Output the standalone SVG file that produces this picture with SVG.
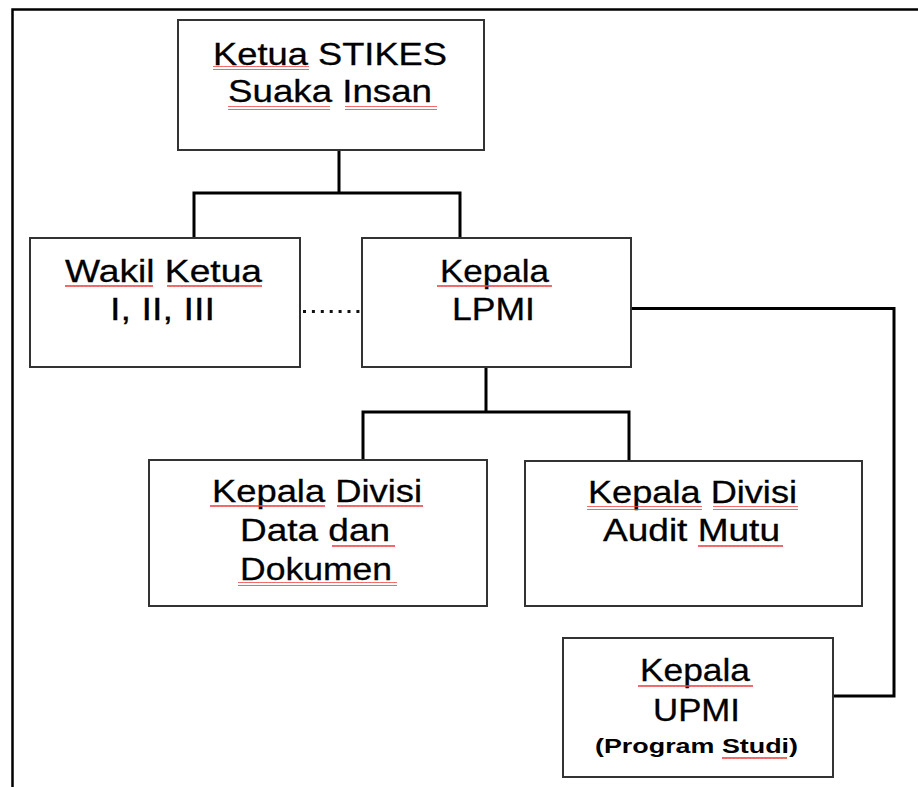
<svg xmlns="http://www.w3.org/2000/svg" width="918" height="787" viewBox="0 0 918 787">
<defs>
<style>
.box{fill:#fff;stroke:#333;stroke-width:2}
.conn{fill:none;stroke:#000;stroke-width:3;stroke-linejoin:miter}
.dot{fill:none;stroke:#111;stroke-width:3.2;stroke-dasharray:3 5.9}
.t{font-family:"Liberation Sans",Arial,sans-serif;font-size:32px;fill:#000;stroke:#000;stroke-width:0.3}
.tb{font-family:"Liberation Sans",Arial,sans-serif;font-size:20px;font-weight:bold;fill:#000}
.sq{fill:url(#wave)}
</style>
<pattern id="wave" width="4" height="4" patternUnits="userSpaceOnUse">
<path d="M0,3 L1,1 L2,3 L3,1 L4,3" fill="none" stroke="#e44" stroke-width="1"/>
</pattern>
</defs>
<rect width="918" height="787" fill="#fff"/>
<path d="M12.5,787 V9.5 H918" fill="none" stroke="#000" stroke-width="2.5"/>
<g id="connectors">
<path class="conn" d="M339,150 V193 M194,238 V193 H460 V238"/>
<path class="conn" d="M486,367 V412 M363,460 V412 H629 V460"/>
<path class="conn" d="M628,308.5 H894 V696 H829"/>
<line class="dot" x1="303" y1="311.5" x2="360" y2="311.5"/>
</g>
<g id="ketua">
<rect class="box" x="178" y="20" width="306" height="130"/>
<text class="t" x="213" y="65" textLength="234" lengthAdjust="spacingAndGlyphs">Ketua STIKES</text>
<text class="t" x="228" y="102" textLength="204" lengthAdjust="spacingAndGlyphs">Suaka Insan</text>
<rect class="sq" x="213" y="66" width="96" height="4"/>
<rect class="sq" x="228" y="106" width="102" height="4"/>
<rect class="sq" x="345" y="106" width="92" height="4"/>
</g>
<g id="wakil">
<rect class="box" x="30" y="238" width="270" height="129"/>
<text class="t" x="65" y="282" textLength="197" lengthAdjust="spacingAndGlyphs">Wakil Ketua</text>
<text class="t" x="110" y="320" textLength="105" lengthAdjust="spacingAndGlyphs">I, II, III</text>
<rect class="sq" x="65" y="285" width="88" height="4"/>
<rect class="sq" x="167" y="285" width="95" height="4"/>
</g>
<g id="lpmi">
<rect class="box" x="362" y="238" width="269" height="129"/>
<text class="t" x="440" y="282" textLength="109" lengthAdjust="spacingAndGlyphs">Kepala</text>
<text class="t" x="452" y="320" textLength="83" lengthAdjust="spacingAndGlyphs">LPMI</text>
<rect class="sq" x="437" y="285" width="115" height="4"/>
</g>
<g id="divisi-data">
<rect class="box" x="149" y="460" width="338" height="146"/>
<text class="t" x="212" y="502" textLength="210" lengthAdjust="spacingAndGlyphs">Kepala Divisi</text>
<text class="t" x="240" y="541" textLength="150" lengthAdjust="spacingAndGlyphs">Data dan</text>
<text class="t" x="240" y="580" textLength="152" lengthAdjust="spacingAndGlyphs">Dokumen</text>
<rect class="sq" x="210" y="505" width="115" height="4"/>
<rect class="sq" x="337" y="505" width="86" height="4"/>
<rect class="sq" x="332" y="545" width="63" height="4"/>
<rect class="sq" x="238" y="582" width="159" height="4"/>
</g>
<g id="divisi-audit">
<rect class="box" x="525" y="461" width="337" height="145"/>
<text class="t" x="588" y="503" textLength="209" lengthAdjust="spacingAndGlyphs">Kepala Divisi</text>
<text class="t" x="603" y="541" textLength="177" lengthAdjust="spacingAndGlyphs">Audit Mutu</text>
<rect class="sq" x="587" y="506" width="115" height="4"/>
<rect class="sq" x="713" y="506" width="85" height="4"/>
<rect class="sq" x="698" y="545" width="85" height="4"/>
</g>
<g id="upmi">
<rect class="box" x="563" y="638" width="270" height="139"/>
<text class="t" x="640" y="681" textLength="110" lengthAdjust="spacingAndGlyphs">Kepala</text>
<text class="t" x="653" y="721" textLength="87" lengthAdjust="spacingAndGlyphs">UPMI</text>
<text class="tb" x="595" y="753" textLength="203" lengthAdjust="spacingAndGlyphs">(Program Studi)</text>
<rect class="sq" x="638" y="684" width="115" height="4"/>
<rect class="sq" x="722" y="756" width="65" height="4"/>
</g>
</svg>
